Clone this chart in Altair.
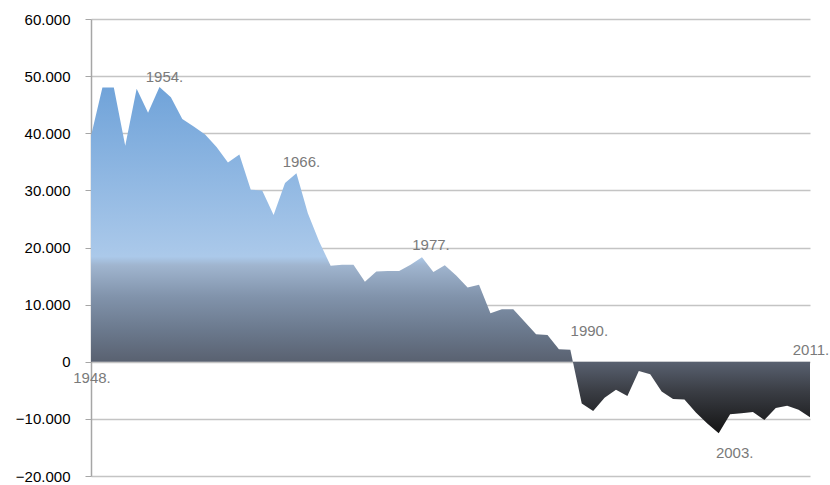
import altair as alt
import pandas as pd

years = list(range(1948, 2012))
values = [
    39500, 48000, 48000, 37800, 47800, 43600, 48100, 46300, 42500, 41200,
    39800, 37600, 34900, 36300, 30100, 30000, 25700, 31300, 33000, 26000,
    21000, 16800, 17000, 17000, 14000, 15800, 15900, 15900, 17000, 18300,
    15700, 16900, 15100, 13000, 13500, 8500, 9200, 9200, 7000, 4800,
    4700, 2200, 2100, -7300, -8600, -6300, -4900, -6000, -1600, -2200,
    -5200, -6500, -6600, -8900, -10800, -12500, -9200, -9000, -8800, -10200,
    -8100, -7700, -8400, -9700,
]
y_ticks = [-20000, -10000, 0, 10000, 20000, 30000, 40000, 50000, 60000]
label_years = [1948, 1954, 1966, 1977, 1990, 2003, 2011]

df = pd.DataFrame({"year": years, "value": values})

x_enc = alt.X("year:Q", scale=alt.Scale(domain=[1948, 2011], nice=False, zero=False), axis=None)
y_scale = alt.Scale(domain=[-20000, 60000], nice=False)

gradient = alt.Gradient(
    gradient="linear",
    x1=0, x2=0, y1=0, y2=1,
    stops=[
        alt.GradientStop(color="#70a3d9", offset=0.0),
        alt.GradientStop(color="#abc9ea", offset=0.49),
        alt.GradientStop(color="#a0b5cf", offset=0.515),
        alt.GradientStop(color="#8193ab", offset=0.606),
        alt.GradientStop(color="#6a788c", offset=0.706),
        alt.GradientStop(color="#596170", offset=0.794),
        alt.GradientStop(color="#3a3d44", offset=0.88),
        alt.GradientStop(color="#141414", offset=1.0),
    ],
)

area = alt.Chart(df).mark_area(color=gradient, interpolate="linear").encode(
    x=x_enc,
    y=alt.Y(
        "value:Q",
        scale=y_scale,
        title=None,
        axis=alt.Axis(
            values=y_ticks,
            labelExpr="replace(format(datum.value, ',d'), ',', '.')",
            labelFont="Liberation Sans",
            labelFontSize=15,
            labelColor="#000000",
            labelPadding=15,
            tickSize=6,
            tickColor="#a6a6a6",
            domainColor="#a6a6a6",
            domainWidth=1.5,
            grid=True,
            gridColor="#c4c4c4",
            gridWidth=1.6,
        ),
    ),
)

offsets = {
    1948: (1, 242),
    1954: (5, -10),
    1966: (5, -11),
    1977: (9, -12),
    1990: (19, -19),
    2003: (16, 20),
    2011: (1, -67),
}

layers = [area]
for yr in label_years:
    dx, dy = offsets[yr]
    layers.append(
        alt.Chart(df)
        .transform_filter(alt.datum.year == yr)
        .mark_text(
            dx=dx, dy=dy, align="center", baseline="middle",
            font="Liberation Sans", fontSize=15, color="#7a7a7a",
        )
        .encode(x=x_enc, y=alt.Y("value:Q", scale=y_scale), text=alt.value(f"{yr}."))
    )

chart = (
    alt.layer(*layers)
    .properties(
        width=719,
        height=457,
        autosize=alt.AutoSizeParams(type="none"),
        padding={"left": 91, "top": 19, "right": 20, "bottom": 9},
        background="#ffffff",
    )
    .configure_view(stroke=None)
)

chart.save("out.html", embed_options={"renderer": "svg", "actions": False})
